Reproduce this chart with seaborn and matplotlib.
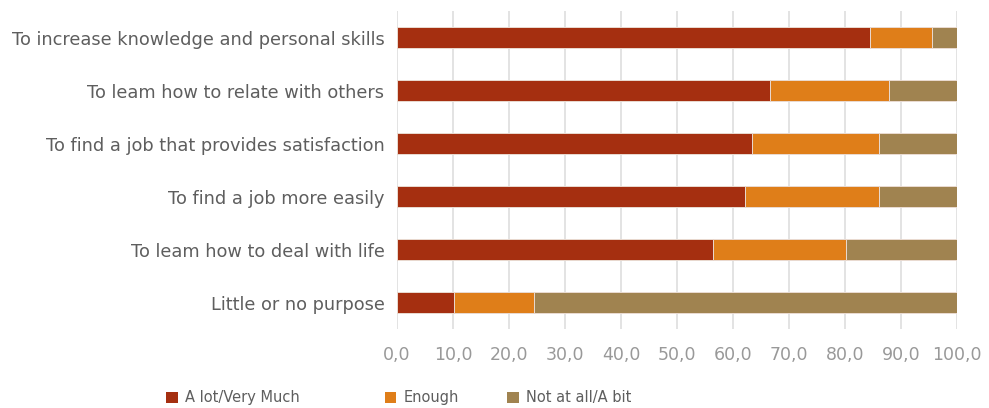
import matplotlib
matplotlib.use("Agg")
import matplotlib.pyplot as plt
from matplotlib.patches import Patch
import numpy as np
import pandas as pd
import seaborn as sns

# Purposes of training, share of answers (%)
categories = [
    "To increase knowledge and personal skills",
    "To leam how to relate with others",
    "To find a job that provides satisfaction",
    "To find a job more easily",
    "To leam how to deal with life",
    "Little or no purpose",
]
a_lot = [84.4, 66.6, 63.4, 62.1, 56.5, 10.1]
enough = [11.2, 21.3, 22.6, 23.9, 23.7, 14.3]
not_at_all = [4.4, 12.1, 14.0, 14.0, 19.8, 75.6]

series_names = ["A lot/Very Much", "Enough", "Not at all/A bit"]
series_colors = ["#A52F10", "#DF7E19", "#A08350"]
x_ticks = [0, 10, 20, 30, 40, 50, 60, 70, 80, 90, 100]

sns.set_theme(style="white")
plt.rcParams["font.family"] = ["DejaVu Sans"]

df = pd.DataFrame({
    "category": categories,
    "s1": np.array(a_lot),
    "s2": np.array(a_lot) + np.array(enough),
    "s3": np.array(a_lot) + np.array(enough) + np.array(not_at_all),
})

fig = plt.figure(figsize=(9.89, 4.08), dpi=100)
ax = fig.add_axes([0.4014, 0.193, 0.5662, 0.780])

# stacked bars drawn as overlapping cumulative totals, longest first
for col, color in zip(["s3", "s2", "s1"], series_colors[::-1]):
    sns.barplot(data=df, x=col, y="category", order=categories, color=color,
                width=0.4, orient="h", ax=ax, edgecolor="#EADBD2",
                linewidth=0.7, saturation=1)

ax.set_xlim(0, 100)
ax.set_ylim(5.5, -0.5)
ax.set_xticks(x_ticks)
ax.set_xticklabels([f"{v:.1f}".replace(".", ",") for v in x_ticks])
ax.set_xlabel("")
ax.set_ylabel("")
ax.grid(axis="x", color="#DEDEDE", linewidth=1.2)
ax.grid(axis="y", visible=False)
ax.set_axisbelow(True)
for s in ax.spines.values():
    s.set_visible(False)
ax.tick_params(axis="x", length=0, pad=12, labelsize=12.5, labelcolor="#999999")
ax.tick_params(axis="y", length=0, pad=9, labelsize=12.8, labelcolor="#5E5E5E")

# one legend entry per series at its own position along the bottom
legend_x = [0.168, 0.389, 0.513]
for name, color, lx in zip(series_names, series_colors, legend_x):
    fig.legend(handles=[Patch(facecolor=color, edgecolor="none")], labels=[name],
               loc="center left", bbox_to_anchor=(lx, 0.025), frameon=False,
               fontsize=10.5, labelcolor="#5E5E5E", handlelength=0.8,
               handleheight=0.8, handletextpad=0.5, borderpad=0, borderaxespad=0)

fig.savefig("out.png", dpi=100)
